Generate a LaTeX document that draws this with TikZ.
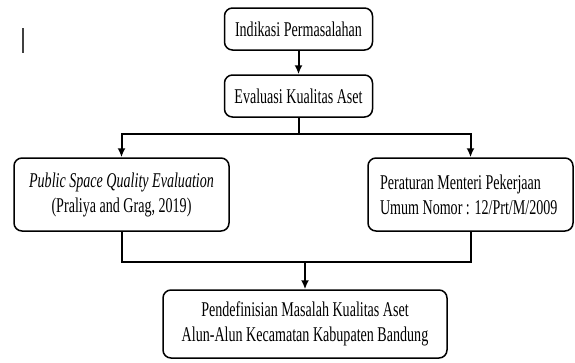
\documentclass[tikz,border=0pt]{standalone}
\usepackage{fontspec}
\setmainfont{Liberation Serif}[FakeStretch=0.67]
\usepackage{xcolor}
\usepackage{tikz}
\usetikzlibrary{arrows.meta}

\begin{document}
\begin{tikzpicture}[
      x=1pt, y=1pt,
      font=\fontsize{21}{25}\selectfont,
      box/.style={draw, line width=1.5pt, rounded corners=8pt, align=center,
                  inner sep=0pt},
      step1/.style={box, minimum width=148pt, minimum height=42pt},
      source/.style={box, minimum height=73pt},
      flow/.style={-{Latex[length=9pt,width=8pt]}, line width=2pt},
      link/.style={line width=2pt},
    ]
    \useasboundingbox (0,0) rectangle (575,-362);

    % top column
    \node[step1] (indikasi) at (298.5,-29) {Indikasi Permasalahan};
    \node[step1] (evaluasi) at (298.5,-96) {Evaluasi Kualitas Aset};

    % two references
    \node[source, minimum width=215pt] (pspqe) at (121.5,-194.5)
      {\textit{Public Space Quality Evaluation}\\(Praliya and Grag, 2019)};
    \node[source, text width=181pt, inner xsep=12pt, align=flush left] (permen) at (470.5,-194.5)
      {Peraturan Menteri Pekerjaan\\Umum Nomor : 12/Prt/M/2009};

    % result
    \node[box, minimum width=284pt, minimum height=68pt] (definisi) at (305,-324)
      {Pendefinisian Masalah Kualitas Aset\\Alun-Alun Kecamatan Kabupaten Bandung};

    % arrows
    \draw[flow] (indikasi) -- (evaluasi);
    \coordinate (split) at ([yshift=-16pt]evaluasi.south);
    \draw[link] (evaluasi.south) -- (split);
    \draw[flow] (split) -| (pspqe.north);
    \draw[flow] (split) -| (permen.north);
    \coordinate (merge) at ([yshift=27pt]definisi.north);
    \draw[link] (pspqe.south) |- (merge) -| (permen.south);
    \draw[flow] (merge) -- (definisi.north);

    % stray bar at left
    \draw[black!75, line width=1.2pt] (23,-28) -- (23,-53);
  \end{tikzpicture}
\end{document}
